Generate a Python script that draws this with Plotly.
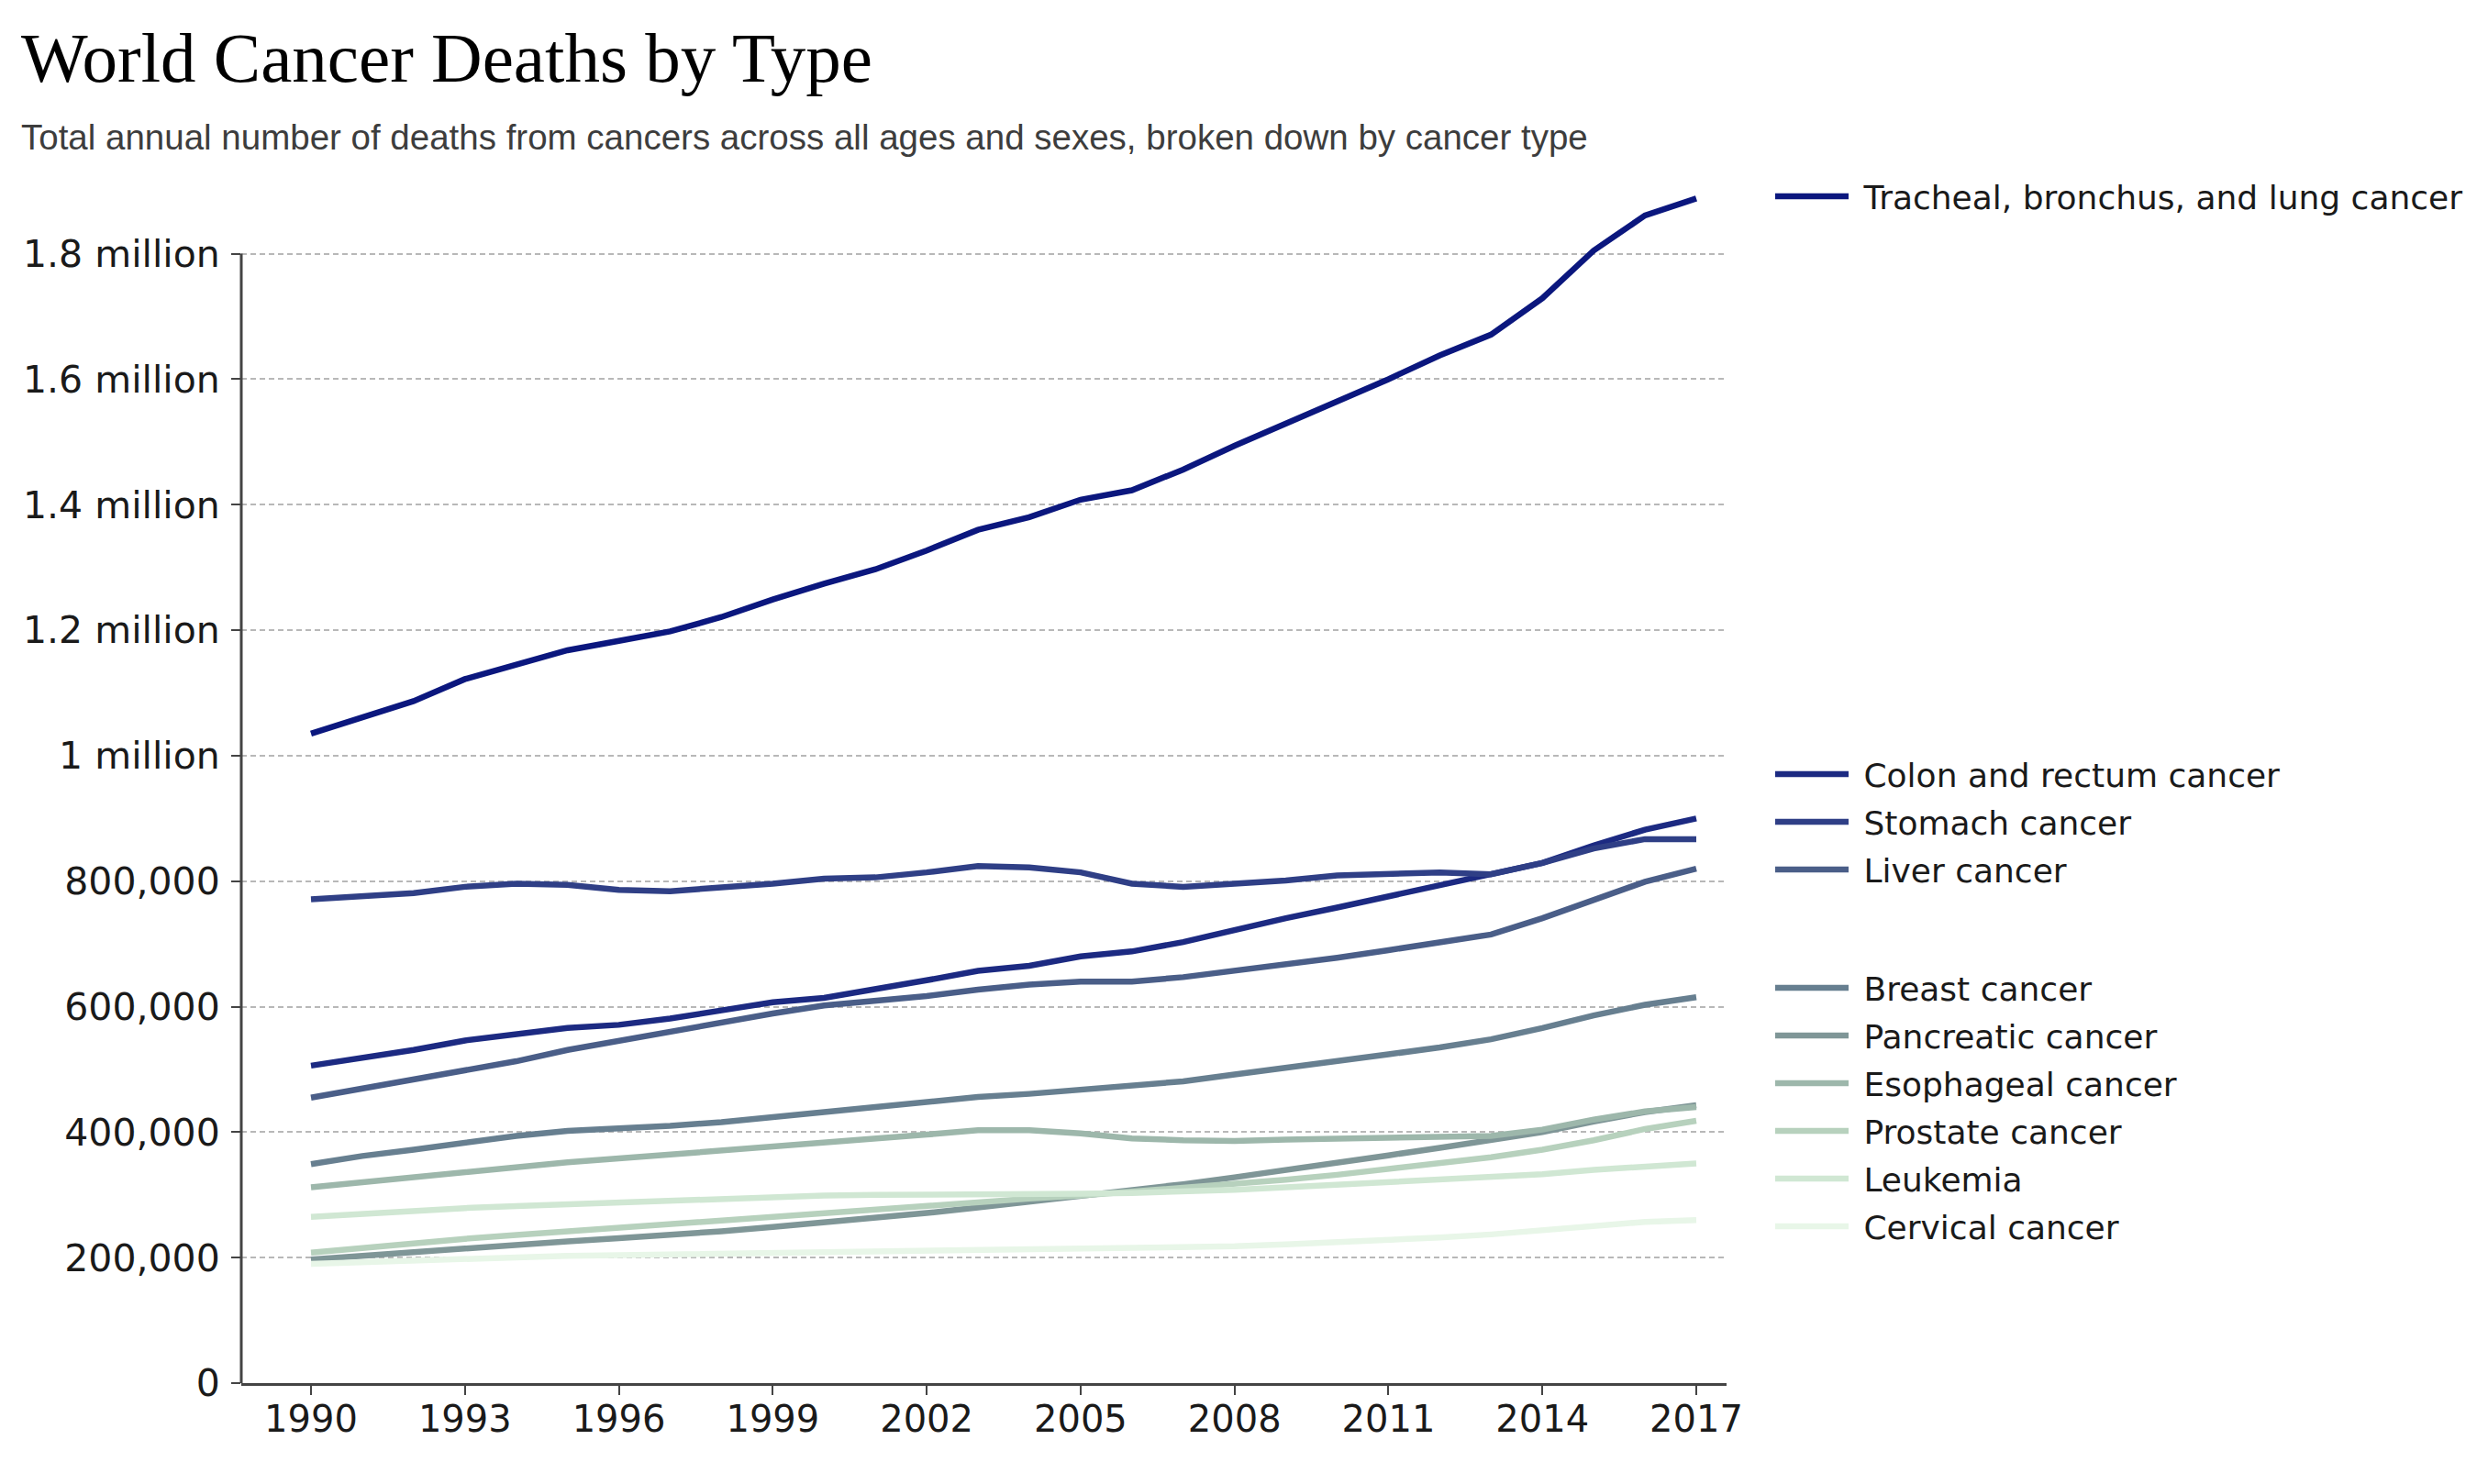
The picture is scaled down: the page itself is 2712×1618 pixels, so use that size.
import plotly.graph_objects as go

years = list(range(1990, 2018))

cancer_types = [
    "Tracheal, bronchus, and lung cancer",
    "Colon and rectum cancer",
    "Stomach cancer",
    "Liver cancer",
    "Breast cancer",
    "Pancreatic cancer",
    "Esophageal cancer",
    "Prostate cancer",
    "Leukemia",
    "Cervical cancer",
]

lung = [1035000, 1062000, 1087000, 1122000, 1145000, 1168000, 1183000, 1198000, 1221000, 1249000,
        1274000, 1297000, 1327000, 1360000, 1380000, 1408000, 1423000, 1456000, 1494000, 1529000,
        1565000, 1600000, 1638000, 1671000, 1729000, 1805000, 1861000, 1888000]
colon = [506000, 518000, 531000, 546000, 556000, 566000, 571000, 581000, 594000, 607000,
         614000, 627000, 642000, 657000, 665000, 680000, 688000, 703000, 723000, 741000,
         758000, 776000, 794000, 811000, 829000, 857000, 882000, 900000]
stomach = [771000, 776000, 781000, 791000, 796000, 794000, 786000, 784000, 789000, 796000,
           804000, 806000, 814000, 824000, 822000, 814000, 796000, 791000, 796000, 801000,
           809000, 811000, 814000, 811000, 829000, 852000, 867000, 867000]
liver = [455000, 470000, 483000, 498000, 513000, 531000, 546000, 559000, 574000, 589000,
         602000, 609000, 617000, 627000, 635000, 640000, 640000, 647000, 657000, 667000,
         678000, 690000, 703000, 715000, 741000, 771000, 799000, 820000]
breast = [349000, 362000, 372000, 384000, 394000, 402000, 405000, 410000, 416000, 425000,
          432000, 440000, 448000, 456000, 461000, 468000, 473000, 481000, 492000, 502000,
          513000, 524000, 535000, 548000, 566000, 586000, 603000, 615000]
pancreatic = [197000, 203000, 209000, 216000, 221000, 226000, 231000, 236000, 242000, 249000,
              256000, 263000, 271000, 280000, 289000, 298000, 307000, 317000, 328000, 339000,
              351000, 363000, 375000, 388000, 400000, 417000, 432000, 443000]
esophageal = [312000, 320000, 328000, 337000, 345000, 352000, 358000, 364000, 371000, 378000,
              384000, 390000, 396000, 403000, 403000, 398000, 390000, 387000, 386000, 388000,
              390000, 391000, 392000, 394000, 404000, 420000, 433000, 440000]
prostate = [208000, 216000, 223000, 230000, 236000, 242000, 247000, 252000, 258000, 264000,
            270000, 276000, 283000, 289000, 294000, 299000, 305000, 311000, 317000, 324000,
            332000, 341000, 350000, 360000, 372000, 387000, 405000, 418000]
leukemia = [265000, 270000, 275000, 279000, 282000, 285000, 288000, 291000, 294000, 297000,
            299000, 300000, 300000, 301000, 301000, 302000, 303000, 305000, 308000, 312000,
            316000, 320000, 324000, 328000, 333000, 340000, 346000, 350000]
cervical = [190000, 193000, 196000, 199000, 201000, 203000, 204000, 205000, 206000, 207000,
            208000, 209000, 210000, 211000, 212000, 213000, 214000, 216000, 218000, 221000,
            224000, 228000, 232000, 237000, 244000, 251000, 257000, 260000]

series = [lung, colon, stomach, liver, breast, pancreatic, esophageal, prostate, leukemia, cervical]

x_tick_years = [1990, 1993, 1996, 1999, 2002, 2005, 2008, 2011, 2014, 2017]
y_tick_values = [0, 200000, 400000, 600000, 800000, 1000000, 1200000, 1400000, 1600000, 1800000]
y_tick_labels = ["0", "200,000", "400,000", "600,000", "800,000", "1 million",
                 "1.2 million", "1.4 million", "1.6 million", "1.8 million"]

colors = ["#0b177e", "#1c2a82", "#2f3f86", "#4a5e88", "#677f90", "#7f9697",
          "#9db7ab", "#b7d1bd", "#d0e7d3", "#e8f6e8"]
legend_ids = ["legend", "legend2", "legend2", "legend2", "legend3", "legend3",
              "legend3", "legend3", "legend3", "legend3"]

fig = go.Figure()
for name, vals, col, lg in zip(cancer_types, series, colors, legend_ids):
    fig.add_trace(go.Scatter(
        x=years, y=vals, mode="lines", name="\u00a0" + name,
        line=dict(color=col, width=6.5),
        legend=lg, legendgroup=name,
    ))

W, H = 2712, 1618
OFF = 8  # default page body margin
# plot area in reference pixel coordinates
PL, PR, PT, PB = 263, 1882, 174, 1508
plot_w = PR - PL
plot_h = PB - PT

def px_x(px):
    return (px - PL) / plot_w

def px_y(px):
    return (PB - px) / plot_h

legend_common = dict(
    font=dict(family="DejaVu Sans", size=36, color="#1a1a1a"),
    bgcolor="rgba(0,0,0,0)", borderwidth=0,
    itemwidth=80, traceorder="grouped", tracegroupgap=2.2,
    xanchor="left", yanchor="middle", x=px_x(1930),
)

fig.update_layout(
    width=W, height=H,
    margin=dict(l=PL - OFF, r=W - PR + OFF, t=PT - OFF, b=H - PB + OFF),
    paper_bgcolor="white", plot_bgcolor="white",
    title=dict(
        text="World Cancer Deaths by Type",
        font=dict(family="Liberation Serif", size=77, color="black"),
        xref="container", yref="container",
        x=(23 - OFF) / W, xanchor="left", y=1 - (62 - OFF) / H, yanchor="middle",
    ),
    showlegend=True,
    legend=dict(**legend_common, y=px_y(214)),
    legend2=dict(**legend_common, y=px_y(896)),
    legend3=dict(**legend_common, y=px_y(1207)),
    xaxis=dict(
        range=[1988.641, 2017.59],
        tickvals=x_tick_years,
        ticks="outside", ticklen=10, tickwidth=2, tickcolor="#444",
        showline=True, linecolor="#444", linewidth=3,
        showgrid=False, zeroline=False,
        tickfont=dict(family="DejaVu Sans", size=40, color="#1a1a1a"),
        ticklabelstandoff=-8,
    ),
    yaxis=dict(
        range=[0, 1950000],
        tickvals=y_tick_values, ticktext=y_tick_labels,
        ticks="outside", ticklen=10, tickwidth=2, tickcolor="#444",
        showline=False, zeroline=False,
        showgrid=True, gridcolor="#b8b8b8", gridwidth=1.5, griddash="6px,4px",
        tickfont=dict(family="DejaVu Sans", size=41, color="#1a1a1a"),
        ticklabelstandoff=4,
    ),
    annotations=[dict(
        text="Total annual number of deaths from cancers across all ages and sexes, broken down by cancer type",
        xref="paper", yref="paper", x=px_x(21), y=px_y(149),
        xanchor="left", yanchor="middle", showarrow=False,
        font=dict(family="Liberation Sans", size=38.5, color="#3d3d3d"),
    )],
    shapes=[dict(
        type="line", xref="paper", yref="y", x0=0, x1=0,
        y0=y_tick_values[0], y1=y_tick_values[-1],
        line=dict(color="#444", width=3), layer="above",
    )],
)

fig.write_html("out.html")
